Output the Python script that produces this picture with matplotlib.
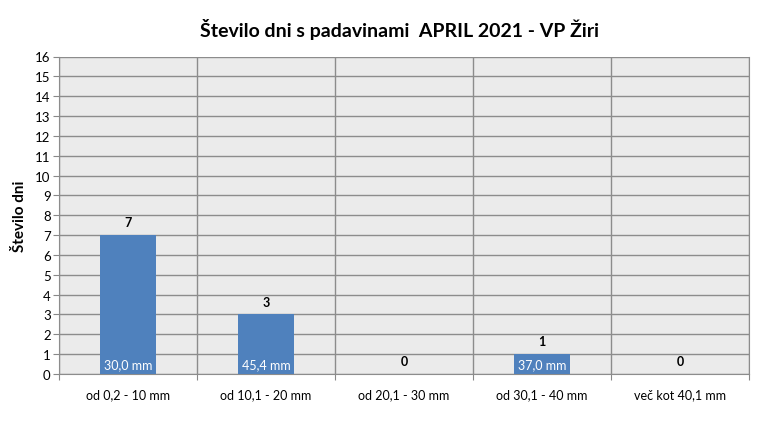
import matplotlib
matplotlib.use("Agg")
import matplotlib.pyplot as plt
import numpy as np

categories = ["od 0,2 - 10 mm", "od 10,1 - 20 mm", "od 20,1 - 30 mm", "od 30,1 - 40 mm", "več kot 40,1 mm"]
days = [7, 3, 0, 1, 0]
amounts = ["30,0 mm", "45,4 mm", "", "37,0 mm", ""]

plt.rcParams['font.family'] = ['Lato', 'DejaVu Sans']

fig = plt.figure(figsize=(7.7, 4.39), dpi=100)
ax = fig.add_axes([59/770, 1-375/439, 690/770, (375-57.5)/439])
ax.set_facecolor('#ebebeb')

x = np.arange(len(categories))
bars = ax.bar(x, days, width=0.4, color='#4f81bd', zorder=3)

ax.set_xlim(-0.5, len(categories)-0.5)
ax.set_ylim(0, 16)
ax.set_yticks(range(0, 17))
ax.set_xticks(np.arange(-0.5, len(categories)), minor=False)
ax.set_xticklabels([])
ax.set_xticks(x, minor=True)
ax.set_xticklabels(categories, minor=True, fontsize=9)
ax.tick_params(axis='x', which='minor', length=0, pad=10)
ax.tick_params(axis='x', which='major', length=4, color='#888888', direction='out')
ax.tick_params(axis='y', length=4, color='#888888', labelsize=9.5, pad=2)

ax.grid(True, axis='y', color='#8c8c8c', linewidth=1, zorder=1)
ax.grid(True, axis='x', which='major', color='#8c8c8c', linewidth=1, zorder=1)
ax.spines['top'].set_visible(False)
ax.spines['left'].set_color('#8c8c8c')
ax.spines['bottom'].set_color('#8c8c8c')
ax.spines['right'].set_color('#8c8c8c')

for xi, d, a in zip(x, days, amounts):
    ax.annotate(str(d), (xi, d), xytext=(0, 5), textcoords='offset points',
                ha='center', va='bottom', fontsize=9, fontweight='bold', color='black')
    if a:
        ax.annotate(a, (xi, 0), xytext=(0, 3), textcoords='offset points',
                    ha='center', va='bottom', fontsize=9, color='white', zorder=4)

ax.set_ylabel("Število dni", fontsize=11, fontweight='bold', labelpad=6)
fig.text(400/770, 1-30/439, "Število dni s padavinami  APRIL 2021 - VP Žiri",
         ha='center', va='center', fontsize=14, fontweight='bold')

fig.savefig("out.png", dpi=100)
